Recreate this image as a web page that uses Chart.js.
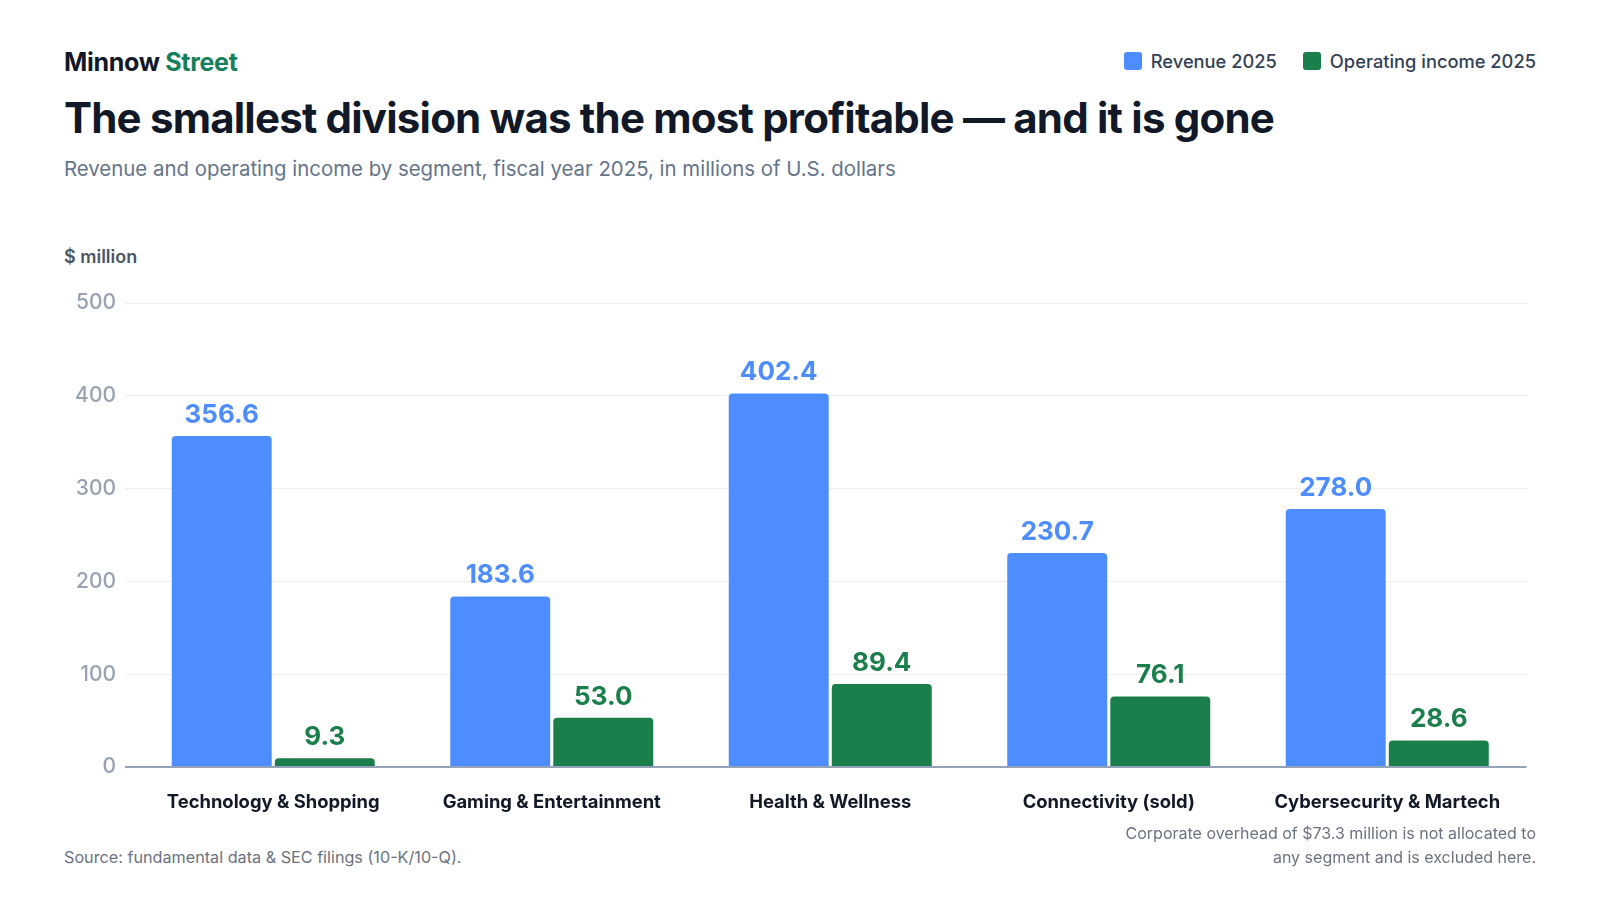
<!DOCTYPE html>
<html>
<head>
<meta charset="utf-8">
<script src="https://cdn.jsdelivr.net/npm/chart.js@4.4.1/dist/chart.umd.min.js"></script>
<style>
  html, body { margin: 0; padding: 0; background: #fff; }
  body { width: 1600px; height: 900px; position: relative; overflow: hidden; font-family: Inter, "Noto Sans", sans-serif; }
  .brand { position: absolute; left: 64px; top: 47px; font-size: 25px; font-weight: 700; color: #111827; letter-spacing: -0.3px; }
  .brand span { color: #15805a; }
  .title { position: absolute; left: 64px; top: 92px; font-size: 42px; font-weight: 700; color: #111827; letter-spacing: -0.8px; white-space: nowrap; }
  .subtitle { position: absolute; left: 64px; top: 156px; font-size: 20.4px; color: #64748b; white-space: nowrap; }
  .legend { position: absolute; right: 64px; top: 50px; display: flex; gap: 26px; font-size: 18.3px; font-weight: 500; color: #334155; }
  .legend .item { display: flex; align-items: center; gap: 9px; }
  .legend .sw { width: 18px; height: 18px; border-radius: 3px; }
  .unit { position: absolute; left: 64px; top: 246px; font-size: 18px; font-weight: 600; color: #4b5563; }
  .wrap { position: absolute; left: 64px; top: 270px; width: 1472px; height: 575px; }
  .source { position: absolute; left: 64px; top: 847px; font-size: 16.2px; color: #6b7280; }
  .note { position: absolute; right: 64px; top: 821px; font-size: 16px; color: #6b7280; text-align: right; line-height: 24px; }
</style>
</head>
<body>
<div class="brand">Minnow <span>Street</span></div>
<div class="legend" id="legend"></div>
<div class="title">The smallest division was the most profitable — and it is gone</div>
<div class="subtitle">Revenue and operating income by segment, fiscal year 2025, in millions of U.S. dollars</div>
<div class="unit">$ million</div>
<div class="wrap"><canvas id="chart"></canvas></div>
<div class="source">Source: fundamental data &amp; SEC filings (10-K/10-Q).</div>
<div class="note">Corporate overhead of $73.3 million is not allocated to<br>any segment and is excluded here.</div>
<script>
// segment data, fiscal 2025, $ million
const segments = ['Technology & Shopping', 'Gaming & Entertainment', 'Health & Wellness', 'Connectivity (sold)', 'Cybersecurity & Martech'];
const revenue = [356.6, 183.6, 402.4, 230.7, 278.0];
const operatingIncome = [9.3, 53.0, 89.4, 76.1, 28.6];
const yTicks = [0, 100, 200, 300, 400, 500];

const BLUE = '#4d8dff';
const GREEN = '#1b7f4b';

// simple value labels above each bar
const valueLabels = {
    id: 'valueLabels',
    afterDatasetsDraw(chart) {
        const ctx = chart.ctx;
        ctx.save();
        ctx.font = '700 26px Inter, "Noto Sans", sans-serif';
        ctx.textAlign = 'center';
        ctx.textBaseline = 'bottom';
        chart.data.datasets.forEach((ds, i) => {
            chart.getDatasetMeta(i).data.forEach((bar, j) => {
                ctx.fillStyle = ds.backgroundColor;
                ctx.fillText(ds.data[j].toFixed(1), bar.x, bar.y - 8);
            });
        });
        ctx.restore();
    }
};

const chart = new Chart(document.getElementById('chart'), {
    type: 'bar',
    data: {
        labels: segments,
        datasets: [{
            label: 'Revenue 2025',
            data: revenue,
            backgroundColor: BLUE,
            borderRadius: 4,
            barPercentage: 0.97,
            categoryPercentage: 0.74
        }, {
            label: 'Operating income 2025',
            data: operatingIncome,
            backgroundColor: GREEN,
            borderRadius: 4,
            barPercentage: 0.97,
            categoryPercentage: 0.74
        }]
    },
    options: {
        responsive: true,
        maintainAspectRatio: false,
        animation: false,
        layout: { padding: { top: 33, right: 9.5, bottom: 0, left: 0 } },
        plugins: {
            legend: { display: false },
            tooltip: { enabled: false }
        },
        scales: {
            x: {
                grid: { display: false },
                border: { display: false },
                ticks: {
                    padding: 16,
                    color: '#111827',
                    font: { family: 'Inter', size: 18.4, weight: '700' }
                },
                afterFit(scale) { scale.height = 78; }
            },
            y: {
                min: 0,
                max: 500,
                afterBuildTicks(scale) { scale.ticks = yTicks.map(v => ({ value: v })); },
                grid: {
                    color: c => c.tick && c.tick.value === 0 ? '#94a3b8' : '#eceef2',
                    lineWidth: c => c.tick && c.tick.value === 0 ? 2 : 1,
                    tickLength: 9
                },
                border: { display: false },
                ticks: {
                    padding: 9,
                    color: '#98a2b3',
                    font: { family: 'Inter', size: 21, weight: '500' }
                },
                afterFit(scale) { scale.width = 70; }
            }
        }
    },
    plugins: [valueLabels]
});

// legend from the datasets
const legend = document.getElementById('legend');
chart.data.datasets.forEach(ds => {
    const item = document.createElement('div');
    item.className = 'item';
    item.innerHTML = `<div class="sw" style="background:${ds.backgroundColor}"></div><div>${ds.label}</div>`;
    legend.appendChild(item);
});
</script>
</body>
</html>
